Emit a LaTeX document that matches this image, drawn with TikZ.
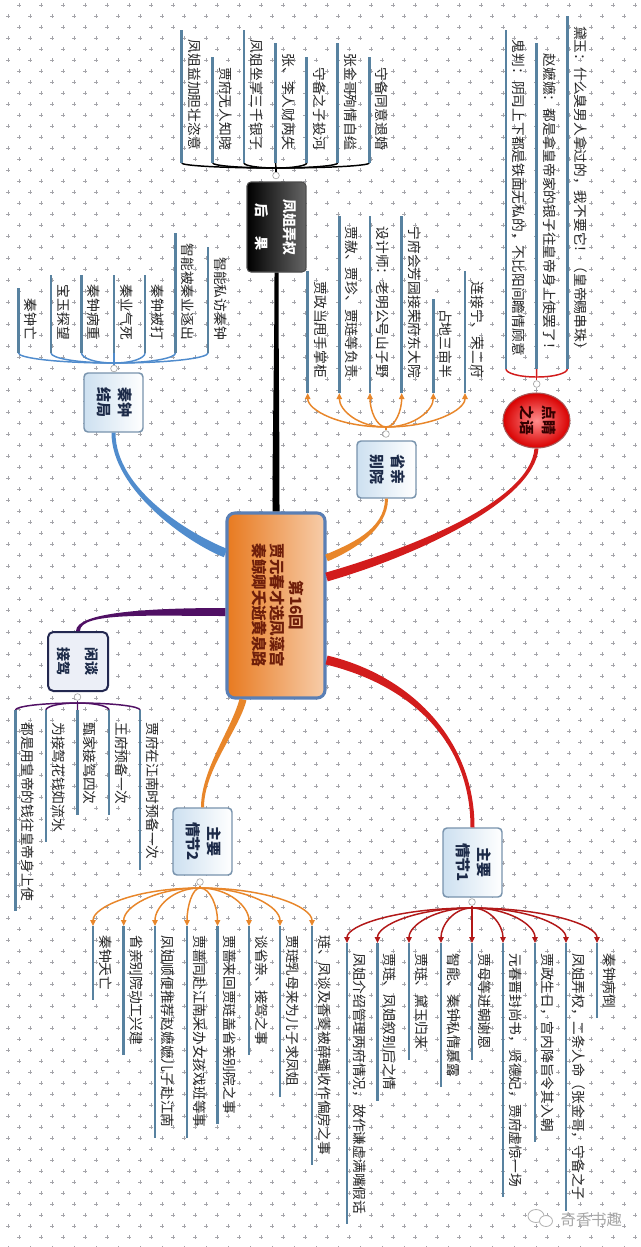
\documentclass[tikz,border=0pt]{standalone}
\usepackage{fontspec}
\setmainfont{Noto Sans CJK SC}
\usepackage{graphicx}
\usetikzlibrary{arrows.meta,calc,shapes.geometric}

\definecolor{stemblue}{RGB}{88,130,160}
\definecolor{topicedge}{RGB}{120,147,173}
\definecolor{topicfill}{RGB}{205,224,240}
\definecolor{topictext}{RGB}{28,42,72}
\definecolor{mainedge}{RGB}{90,127,181}
\definecolor{maindark}{RGB}{232,122,32}
\definecolor{mainlight}{RGB}{247,205,170}
\definecolor{maintext}{RGB}{110,30,10}
\definecolor{brblue}{RGB}{80,140,205}
\definecolor{brorange}{RGB}{232,134,42}
\definecolor{brred}{RGB}{210,28,28}
\definecolor{brpurple}{RGB}{80,16,100}
\definecolor{chatedge}{RGB}{35,40,80}
\definecolor{chatfill}{RGB}{236,239,247}
\definecolor{gridgray}{RGB}{165,165,170}

\newcommand{\rottext}[1]{\rotatebox{-90}{#1}}
\newcommand{\rotlines}[1]{\rotatebox{-90}{\begin{tabular}{@{}c@{}}#1\end{tabular}}}
% tapered branch: colour, start, start offset, control 1, control 2, end, end offset
\newcommand{\limb}[7]{%
  \fill[#1] ($(#2)+#3$) .. controls ($#4+#3$) and ($#5+#7$) .. ($(#6)+#7$)
    -- ($(#6)-#7$) .. controls ($#5-#7$) and ($#4-#3$) .. ($(#2)-#3$) -- cycle;}

\begin{document}
\begin{tikzpicture}[x=0.75pt,y=0.75pt,yscale=-1,xscale=1,
  gridcross/.style={gridgray, line width=0.45pt},
  leaf/.style={inner sep=0pt, font=\fontsize{10.3}{12}\selectfont, text=black!85},
  stem/.style={stemblue, line width=1.9pt},
  fan/.style={line width=1.1pt},
  fanarrow/.style={-{Triangle[length=4.5pt,width=4pt]}},
  dot/.style={circle, draw=gray!70, fill=white, line width=0.5pt, minimum size=5pt, inner sep=0pt},
  topic/.style={rectangle, rounded corners=3pt, draw=topicedge, line width=1.1pt, left color=topicfill, right color=white, text=topictext, font=\fontsize{11.2}{16}\selectfont\bfseries, inner sep=0pt, minimum width=44.25pt},
  mainbox/.style={rectangle, rounded corners=6pt, draw=mainedge, line width=2.3pt, left color=maindark, right color=mainlight, text=maintext, font=\fontsize{11.6}{13.1}\selectfont\bfseries, minimum width=73.5pt, minimum height=138.75pt, inner sep=0pt},
  powerbox/.style={rectangle, rounded corners=3pt, draw=gray!60!black, line width=0.8pt, left color=black, right color=black!60, text=white, font=\fontsize{10.5}{21}\selectfont\bfseries, minimum width=44.25pt, minimum height=67.5pt, inner sep=0pt},
  eyeball/.style={ellipse, draw=gray!70!red, line width=0.8pt, inner color=red!45!white, outer color=red!85!black, text=black!80!red, font=\fontsize{11}{16.5}\selectfont\bfseries, minimum width=50.25pt, minimum height=41.25pt, inner sep=0pt},
  chatbox/.style={rectangle, rounded corners=4pt, draw=chatedge, line width=1.5pt, fill=chatfill, text=topictext, font=\fontsize{10.5}{21}\selectfont\bfseries, minimum width=45pt, minimum height=44.25pt, inner sep=0pt}]
\useasboundingbox (0,0) rectangle (640,1247);
\fill[white] (0,0) rectangle (640,1247);

% background crosses
\foreach \j in {0,...,56} {
  \draw[gridcross] \foreach \i in {0,...,29} {(6+22*\i,16+22*\j) -- ++(4,0) (8+22*\i,14+22*\j) -- ++(0,4) (17+22*\i,5+22*\j) -- ++(4,0) (19+22*\i,3+22*\j) -- ++(0,4)};
}

% Topics
\node[mainbox] (main) at (276,605.5) {\rotlines{第16回\\贾元春才选凤藻宫\\秦鲸卿夭逝黄泉路}};
\node[powerbox] (power) at (276.5,227) {\rotlines{凤姐弄权\\后\hspace{1.3em}果}};
\node[topic, minimum height=44.25pt] (qin) at (113.5,402.5) {\rotlines{秦钟\\结局}};
\node[topic, minimum height=42.75pt] (visit) at (386.5,469.5) {\rotlines{省亲\\别院}};
\node[eyeball] (eye) at (536.5,420.5) {\rotlines{点睛\\之语}};
\node[chatbox] (chat) at (78,661.5) {\rotlines{闲谈\\接驾}};
\node[topic, minimum height=50.25pt] (plot2) at (202.5,841.5) {\rotlines{主要\\情节2}};
\node[topic, minimum height=51.75pt] (plot1) at (472.5,862.5) {\rotlines{主要\\情节1}};

% Branches
\coordinate (sblue) at ($(main.west)+(0,-52.5)$);
\coordinate (svisit) at ($(main.east)+(0,-47.5)$);
\coordinate (seye) at ($(main.east)+(0,-28.5)$);
\coordinate (schat) at ($(main.west)+(0,6.5)$);
\coordinate (splot2) at ($(main.south)+(-33,0)$);
\coordinate (splot1) at ($(main.east)+(0,54.5)$);
\limb{black}{main.north}{(-3.5,0)}{(276,430)}{(276.5,350)}{power.south}{(-2,0)}
\limb{brblue}{sblue}{(-1.6,4.2)}{(190,539)}{(113.5,490)}{qin.south}{(-2,0)}
\limb{brorange}{svisit}{(-1.3,-3.25)}{(350,548)}{(386.5,530)}{visit.south}{(-1.5,0)}
\limb{brred}{seye}{(-1.2,-4.3)}{(420,550)}{(532,500)}{eye.south}{(-2,0)}
\limb{brpurple}{schat}{(0,4)}{(150,612)}{(78,612)}{chat.north}{(2,0)}
\limb{brorange}{splot2}{(3.4,0.85)}{(235,730)}{(202.5,770)}{plot2.north}{(1.5,0)}
\limb{brred}{splot1}{(1,-4.4)}{(410,680)}{(472.5,740)}{plot1.north}{(2,0)}

% 凤姐弄权 leaves
\coordinate (powerjoin) at (276,168);
\node[dot] (powerdot) at (276,175.5) {};
\draw[fan] (powerdot) -- (powerjoin);
\foreach \x/\lbl [count=\i] in {181.7/凤姐益加胆壮恣意, 212.7/贾府无人知晓, 244/凤姐坐享三千银子, 275.7/张、李人财两失, 306.7/守备之子投河, 337.7/张金哥殉情自缢, 369.3/守备同意退婚} {
  \node[leaf, anchor=south west] (power-\i) at (\x+6,150) {\rottext{\lbl}};
  \draw[fan] (powerjoin) .. controls ($(powerjoin)!0.6!(\x,168)$) and (\x,165.5) .. (\x,163);
  \draw[stem] (\x,163) -- ($(power-\i.north west)+(-6,-10)$);
}

% 秦钟结局 leaves
\coordinate (qinjoin) at (114,363);
\node[dot] (qindot) at (114,368.5) {};
\draw[fan, brblue] (qindot) -- (qinjoin);
\foreach \x/\lbl [count=\i] in {18.4/秦钟亡, 51/宝玉探望, 81.6/秦钟病重, 114/秦业气死, 145/秦钟被打, 175.5/智能被秦业逐出, 208/智能私访秦钟} {
  \node[leaf, anchor=south west] (qin-\i) at (\x+6,340) {\rottext{\lbl}};
  \draw[fan, brblue] (qinjoin) .. controls ($(qinjoin)!0.6!(\x,363)$) and (\x,358) .. (\x,353);
  \draw[stem] (\x,353) -- ($(qin-\i.north west)+(-6,-10)$);
}

% 省亲别院 leaves
\coordinate (visitjoin) at (386,427);
\node[dot] (visitdot) at (386,434) {};
\draw[fan, brorange] (visitdot) -- (visitjoin);
\foreach \x/\lbl [count=\i] in {307.7/贾政当甩手掌柜, 339.3/贾赦、贾珍、贾琏等负责, 370/设计师：老明公号山子野, 401.7/宁府会芳园接荣府东大院, 433.3/占地三亩半, 465/连接宁、荣二府} {
  \node[leaf, anchor=south west] (visit-\i) at (\x+6,378) {\rottext{\lbl}};
  \draw[fan, fanarrow, brorange] (visitjoin) .. controls ($(visitjoin)!0.6!(\x,427)$) and (\x,410) .. (\x,393);
  \draw[stem] (\x,393) -- ($(visit-\i.north west)+(-6,-10)$);
}

% 点睛之语 leaves
\coordinate (eyejoin) at (536.7,377);
\node[dot] (eyedot) at (536.7,384) {};
\draw[fan, brred] (eyedot) -- (eyejoin);
\foreach \x/\lbl [count=\i] in {506/鬼判：阴司上下都是铁面无私的，不比阳间瞻情顾意, 536.7/赵嬷嬷：都是拿皇帝家的银子往皇帝身上使罢了！, 567.3/黛玉：什么臭男人拿过的，我不要它！（皇帝赐串珠）} {
  \node[leaf, anchor=south west] (eye-\i) at (\x+6,356) {\rottext{\lbl}};
  \draw[fan, brred] (eyejoin) .. controls ($(eyejoin)!0.6!(\x,377)$) and (\x,373) .. (\x,369);
  \draw[stem] (\x,369) -- ($(eye-\i.north west)+(-6,-10)$);
}

% 闲谈接驾 leaves
\coordinate (chatjoin) at (77.5,703);
\node[dot] (chatdot) at (77.5,697) {};
\draw[fan, brpurple] (chatdot) -- (chatjoin);
\foreach \x/\lbl [count=\i] in {15.5/都是用皇帝的钱往皇帝身上使, 46/为接驾花钱如流水, 77.5/甄家接驾四次, 109/王府预备一次, 140/贾府在江南时预备一次} {
  \node[leaf, anchor=north west] (chat-\i) at (\x+6,722) {\rottext{\lbl}};
  \draw[fan, brpurple] (chatjoin) .. controls ($(chatjoin)!0.6!(\x,703)$) and (\x,706.5) .. (\x,710);
  \draw[stem] (\x,710) -- ($(chat-\i.south west)+(-6,10)$);
}

% 主要情节2 leaves
\coordinate (plottwojoin) at (200,888);
\node[dot] (plottwodot) at (200,882) {};
\draw[fan, brorange] (plottwodot) -- (plottwojoin);
\foreach \x/\lbl [count=\i] in {93/秦钟夭亡, 123.7/省亲别院动工兴建, 155/凤姐顺便推荐赵嬷嬷儿子赴江南, 187/贾蔷同赴江南采办女孩戏班等事, 217.5/贾蔷来回贾琏盖省亲别院之事, 249/谈省亲、接驾之事, 280/贾琏乳母来为儿子求凤姐, 312/琏、凤谈及香菱被薛蟠收作偏房之事} {
  \node[leaf, anchor=north west] (plottwo-\i) at (\x+6,935) {\rottext{\lbl}};
  \draw[fan, fanarrow, brorange] (plottwojoin) .. controls ($(plottwojoin)!0.6!(\x,888)$) and (\x,907) .. (\x,926);
  \draw[stem] (\x,926) -- ($(plottwo-\i.south west)+(-6,10)$);
}

% 主要情节1 leaves
\coordinate (plotonejoin) at (472,908);
\node[dot] (plotonedot) at (472,902) {};
\draw[fan, brred!85!black] (plotonedot) -- (plotonejoin);
\foreach \x/\lbl [count=\i] in {347/凤姐介绍管理两府情况，故作谦虚满嘴假话, 377.5/贾琏、凤姐叙别后之情, 409/贾琏、黛玉归来, 441/智能、秦钟私情暴露, 472/贾母等进朝谢恩, 503/元春晋封尚书，贤德妃，贾府虚惊一场, 535/贾政生日，宫内降旨令其入朝, 566/凤姐弄权，二条人命（张金哥，守备之子, 597/秦钟病倒} {
  \node[leaf, anchor=north west] (plotone-\i) at (\x+6,953) {\rottext{\lbl}};
  \draw[fan, fanarrow, brred!85!black] (plotonejoin) .. controls ($(plotonejoin)!0.6!(\x,908)$) and (\x,925.5) .. (\x,943);
  \draw[stem] (\x,943) -- ($(plotone-\i.south west)+(-6,10)$);
}

% watermark
\draw[gray!60, line width=0.6pt, fill=white] (536,1216) ellipse [x radius=8, y radius=6.5];
\draw[gray!60, line width=0.6pt, fill=white] (546,1221) ellipse [x radius=6.5, y radius=5.5];
\node[anchor=west, font=\fontsize{11.5}{12}\selectfont, text=gray!70] (mark) at (556,1220) {奇香书趣};

\end{tikzpicture}
\end{document}
